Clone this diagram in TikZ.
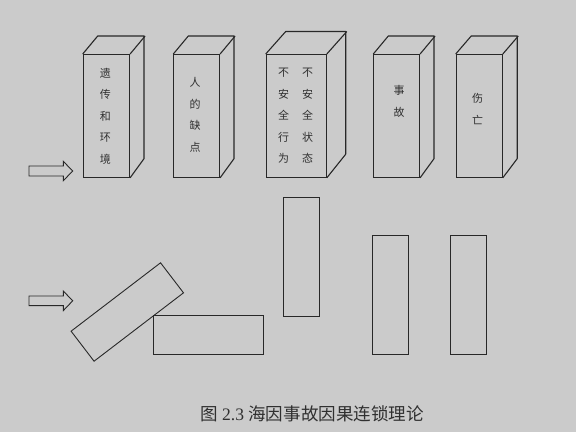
\documentclass[tikz,border=0pt]{standalone}
\usepackage{fontspec}
\setmainfont{Liberation Serif}
\newfontfamily\cjk{Noto Sans CJK SC}
\definecolor{backc}{HTML}{CBCBCB}
\definecolor{linec}{HTML}{282828}
\definecolor{textc}{HTML}{303030}
\begin{document}
\begin{tikzpicture}[x=1bp, y=-1bp, line width=0.9bp, draw=linec,
    face/.style={draw=linec, line width=1.1bp, inner sep=0pt, anchor=north west, minimum height=122.7bp},
    plank/.style={draw=linec, inner sep=0pt, anchor=north west},
    word/.style={font=\cjk\fontsize{11}{21.6}\selectfont, text=textc, align=center, inner sep=0pt}]
  \fill[backc] (0,0) rectangle (576,432);
  \useasboundingbox (0,0) rectangle (576,432);
  % standing dominoes
  \foreach \name/\xa/\bw/\bdx/\bdy in {b1/82.7/46.3/15/-18, b2/173.3/45.7/15/-18,
      b3/265.7/60/20/-22.5, b4/373.3/45.7/15/-18, b5/455.7/46/15.5/-18} {
    \node[face, minimum width=\bw bp] (\name) at (\xa,54) {};
    \draw[line width=1.1bp, line join=round] (\name.north west) -- ++(\bdx,\bdy) -- ++(\bw,0) -- ++(0,122.7) -- (\name.south east);
    \draw[line width=1.1bp] (\name.north east) -- ++(\bdx,\bdy);
  }
  \node[word] (t1) at (105.3,116) {遗\\传\\和\\环\\境};
  \node[word] (t2) at (195,115) {人\\的\\缺\\点};
  \node[word] (t3a) at (283.5,116) {不\\安\\全\\行\\为};
  \node[word] (t3b) at (307.7,116) {不\\安\\全\\状\\态};
  \node[word] (t4) at (399,101.4) {事\\故};
  \node[word] (t5) at (477.7,108.8) {伤\\亡};
  % push arrows
  \draw (29,166) -- (63.3,166) -- (63.3,161.3) -- (72.7,171) -- (63.3,180.7) -- (63.3,176) -- (29,176) -- cycle;
  \draw (29,296) -- (63.3,296) -- (63.3,291) -- (72.7,300.8) -- (63.3,310.6) -- (63.3,305.6) -- (29,305.6) -- cycle;
  % fallen dominoes
  \node[draw=linec, inner sep=0pt, minimum width=112.6bp, minimum height=37.8bp, rotate=37.4] (f1) at (127.3,312) {};
  \node[plank, minimum width=110bp, minimum height=38.7bp] (f2) at (153,315.3) {};
  \node[plank, minimum width=35.4bp, minimum height=119.3bp] (f3) at (283.3,196.7) {};
  \node[plank, minimum width=36bp, minimum height=119bp] (f4) at (372.3,235) {};
  \node[plank, minimum width=36bp, minimum height=119bp] (f5) at (449.7,235) {};
  % caption
  \node[text=textc, font=\fontsize{17.6}{20}\selectfont, inner sep=0pt] (cap) at (312,414)
    {{\cjk 图} 2.3 {\cjk 海因事故因果连锁理论}};
\end{tikzpicture}
\end{document}
